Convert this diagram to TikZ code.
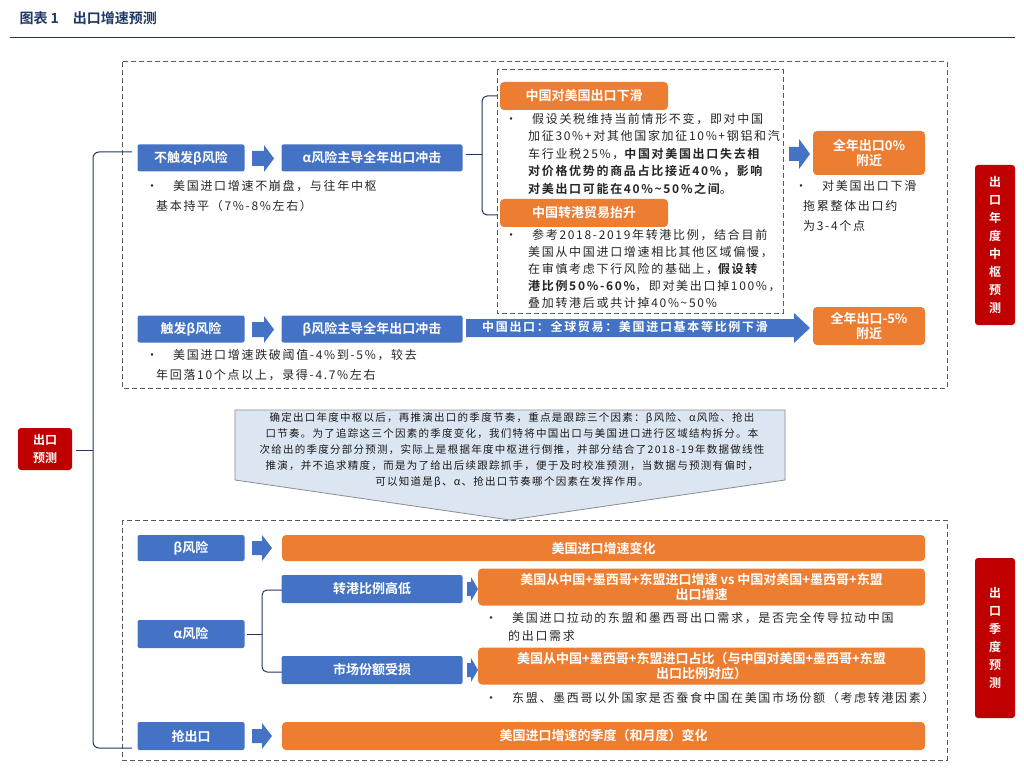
\documentclass[tikz,border=0pt]{standalone}
\usepackage{fontspec}
\setmainfont{Noto Sans CJK SC}
\newfontfamily\cjkb{Noto Sans CJK SC Bold}
\newfontfamily\cjksp[LetterSpace=14]{Noto Sans CJK SC}
\newfontfamily\cjkspb[LetterSpace=14]{Noto Sans CJK SC Bold}
\newfontfamily\cjkcl[LetterSpace=12]{Noto Sans CJK SC}
\newcommand{\bt}[1]{{\cjkspb #1}}
\usetikzlibrary{arrows.meta}
\definecolor{bl}{HTML}{4472C4}
\definecolor{og}{HTML}{ED7D31}
\definecolor{rd}{HTML}{C00000}
\definecolor{lb}{HTML}{DCE6F2}
\definecolor{ttl}{HTML}{1F3864}
\begin{document}
\begin{tikzpicture}[x=1pt,y=-1pt,
 bbox/.style={fill=bl,rounded corners=2pt,text=white,font=\cjkb\fontsize{13}{15}\selectfont,inner sep=0pt},
 obox/.style={fill=og,rounded corners=4pt,text=white,font=\cjkb\fontsize{13}{15}\selectfont,inner sep=0pt,align=center},
 rbox/.style={fill=rd,rounded corners=3pt,text=white,font=\cjkb\fontsize{12}{18}\selectfont,inner sep=0pt,align=center},
 txt/.style={font=\cjksp\fontsize{12}{17.5}\selectfont,align=left,anchor=north west,inner sep=0pt,text=black!85},
 dbox/.style={draw=black!65,line width=1pt,dash pattern=on 5pt off 3pt},
 barrow/.style={fill=bl,draw=none},
 brk/.style={draw=ttl,line width=1pt}]
\path[use as bounding box] (0,0) rectangle (1024,783);
\fill[white] (0,0) rectangle (1024,783);
\node[anchor=west,text=ttl,font=\cjkb\fontsize{14}{16}\selectfont] (title) at (16,18) {图表 1\quad 出口增速预测};
\draw[ttl,line width=1pt] (10,38) -- (1015,38);
% dashed boxes
\draw[dbox] (122,62) rectangle (947,388);
\draw[dbox] (497,70) rectangle (783,313);
\draw[dbox] (122,520) rectangle (947,760);
% main bracket
\draw[brk,rounded corners=6pt] (132,152) -- (93,152) -- (93,748) -- (132,748);
\draw[brk] (93,450) -- (76,450);
\node[rbox,minimum width=54,minimum height=42] (root) at (45,449) {出口\\预测};
% red side labels
\node[rbox,minimum width=40,minimum height=160] (r1) at (995,245) {出\\口\\年\\度\\中\\枢\\预\\测};
\node[rbox,minimum width=40,minimum height=160] (r2) at (995,638) {出\\口\\季\\度\\预\\测};
% top row
\node[bbox,minimum width=107,minimum height=27] (nb) at (191,158) {不触发β风险};
\fill[barrow] (252,151) -- (264,151) -- (264,145) -- (274,158.5) -- (264,172) -- (264,166) -- (252,166) -- cycle;
\node[bbox,minimum width=181,minimum height=27] (ad) at (372,158) {α风险主导全年出口冲击};
\node[txt,font=\cjksp\fontsize{12}{20}\selectfont] (t1) at (146,180) {•\hspace{15pt}美国进口增速不崩盘，与往年中枢\\\hspace{10pt}基本持平（7\%-8\%左右）};
\draw[brk,rounded corners=5pt] (497,96) -- (482,96) -- (482,215) -- (497,215);
\draw[brk] (482,155) -- (466,155);
\node[obox,minimum width=168,minimum height=28] (o1) at (584,96) {中国对美国出口下滑};
\node[txt] (t2) at (505,113) {•\hspace{15pt}假设关税维持当前情形不变，即对中国\\\hspace{23pt}加征30\%+对其他国家加征10\%+钢铝和汽\\\hspace{23pt}车行业税25\%，\bt{中国对美国出口失去相}\\\hspace{23pt}\bt{对价格优势的商品占比接近40\%，影响}\\\hspace{23pt}\bt{对美出口可能在40\%\textasciitilde50\%之间}。};
\node[obox,minimum width=168,minimum height=28] (o2) at (584,213) {中国转港贸易抬升};
\node[txt,font=\cjksp\fontsize{12}{17}\selectfont] (t3) at (505,229) {•\hspace{15pt}参考2018-2019年转港比例，结合目前\\\hspace{23pt}美国从中国进口增速相比其他区域偏慢，\\\hspace{23pt}在审慎考虑下行风险的基础上，\bt{假设转}\\\hspace{23pt}\bt{港比例50\%-60\%}，即对美出口掉100\%，\\\hspace{23pt}叠加转港后或共计掉40\%\textasciitilde50\%};
\fill[barrow] (789,147) -- (799,147) -- (799,139) -- (810,154) -- (799,169) -- (799,161) -- (789,161) -- cycle;
\node[obox,minimum width=112,minimum height=44] (y0) at (869,153) {全年出口0\%\\附近};
\node[txt,font=\cjksp\fontsize{12}{20}\selectfont] (t4) at (795,180) {•\hspace{15pt}对美国出口下滑\\\hspace{8pt}拖累整体出口约\\\hspace{8pt}为3-4个点};
% beta row
\node[bbox,minimum width=107,minimum height=27] (tb) at (191,329) {触发β风险};
\fill[barrow] (252,322) -- (264,322) -- (264,316) -- (274,329.5) -- (264,343) -- (264,337) -- (252,337) -- cycle;
\node[bbox,minimum width=181,minimum height=27] (bd) at (372,329) {β风险主导全年出口冲击};
\fill[barrow] (466,319) -- (794,319) -- (794,313) -- (810,328) -- (794,343) -- (794,337) -- (466,337) -- cycle;
\node[text=white,font=\cjkspb\fontsize{12}{13}\selectfont,inner sep=0pt] (ba) at (625,327) {中国出口：全球贸易：美国进口基本等比例下滑};
\node[obox,minimum width=112,minimum height=38] (y5) at (869,326) {全年出口-5\%\\附近};
\node[txt,font=\cjksp\fontsize{12}{20}\selectfont] (t5) at (146,349) {•\hspace{15pt}美国进口增速跌破阈值-4\%到-5\%，较去\\\hspace{10pt}年回落10个点以上，录得-4.7\%左右};
% callout
\draw[black!45,fill=lb,line width=0.8pt] (235,410) -- (785,410) -- (785,480) -- (510,520) -- (235,480) -- cycle;
\node[font=\cjkcl\fontsize{10.5}{16}\selectfont,align=center,text=black!90,inner sep=0pt] (call) at (512,450) {确定出口年度中枢以后，再推演出口的季度节奏，重点是跟踪三个因素：β风险、α风险、抢出\\口节奏。为了追踪这三个因素的季度变化，我们特将中国出口与美国进口进行区域结构拆分。本\\次给出的季度分部分预测，实际上是根据年度中枢进行倒推，并部分结合了2018-19年数据做线性\\推演，并不追求精度，而是为了给出后续跟踪抓手，便于及时校准预测，当数据与预测有偏时，\\可以知道是β、α、抢出口节奏哪个因素在发挥作用。};
% lower
\node[bbox,minimum width=107,minimum height=26] (b1) at (191,548) {β风险};
\fill[barrow] (252,541) -- (262,541) -- (262,535) -- (272,548) -- (262,561) -- (262,555) -- (252,555) -- cycle;
\node[obox,minimum width=643,minimum height=26] (l1) at (603.5,548) {美国进口增速变化};
\node[bbox,minimum width=107,minimum height=28] (a1) at (191,634) {α风险};
\draw[brk,rounded corners=5pt] (282,590) -- (262,590) -- (262,672) -- (282,672);
\draw[brk] (262,634) -- (247,634);
\node[bbox,minimum width=181,minimum height=28] (s1) at (372,589) {转港比例高低};
\fill[barrow] (467,582) -- (471,582) -- (471,577) -- (478,589) -- (471,601) -- (471,596) -- (467,596) -- cycle;
\node[obox,minimum width=447,minimum height=37] (l2) at (701.5,587) {美国从中国+墨西哥+东盟进口增速 vs 中国对美国+墨西哥+东盟\\出口增速};
\node[txt,font=\cjksp\fontsize{12}{18}\selectfont] (t6) at (485,612) {•\hspace{15pt}美国进口拉动的东盟和墨西哥出口需求，是否完全传导拉动中国\\\hspace{23pt}的出口需求};
\node[bbox,minimum width=181,minimum height=28] (s2) at (372,670) {市场份额受损};
\fill[barrow] (467,663) -- (471,663) -- (471,658) -- (478,670) -- (471,682) -- (471,677) -- (467,677) -- cycle;
\node[obox,minimum width=447,minimum height=37] (l3) at (701.5,666) {美国从中国+墨西哥+东盟进口占比（与中国对美国+墨西哥+东盟\\出口比例对应）};
\node[txt,font=\cjksp\fontsize{12}{18}\selectfont] (t7) at (485,692) {•\hspace{15pt}东盟、墨西哥以外国家是否蚕食中国在美国市场份额（考虑转港因素）};
\node[bbox,minimum width=107,minimum height=28] (q1) at (191,736) {抢出口};
\fill[barrow] (252,729) -- (262,729) -- (262,723) -- (272,736) -- (262,749) -- (262,743) -- (252,743) -- cycle;
\node[obox,minimum width=643,minimum height=28] (l4) at (603.5,736) {美国进口增速的季度（和月度）变化};
\end{tikzpicture}
\end{document}
